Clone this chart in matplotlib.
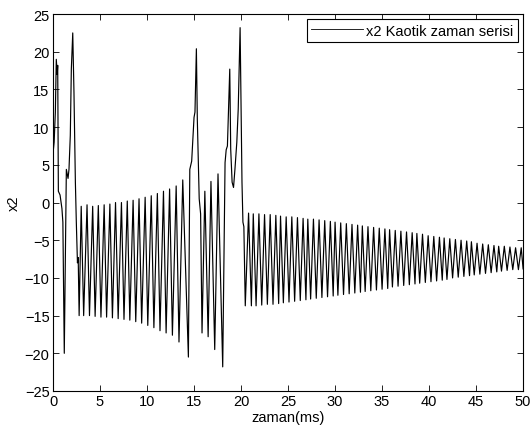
import numpy as np
import matplotlib
matplotlib.use("Agg")
import matplotlib.pyplot as plt

plt.rcParams['font.family'] = ['Liberation Sans', 'DejaVu Sans']

# ---- data (time in ms, x2 value) ----
# initial transient
t_head = [0.0, 0.12, 0.25, 0.35, 0.45, 0.5, 0.57, 0.75, 0.95, 1.05, 1.2, 1.42, 1.6, 1.7,
          1.84, 1.95, 2.1, 2.23, 2.38, 2.48, 2.6, 2.68, 2.78]
v_head = [6.5, 8.0, 12.0, 19.0, 17.0, 18.2, 1.5, 1.0, -0.8, -2.6, -20.0, 4.4, 3.2, 4.4,
          8.9, 17.7, 22.5, 14.6, 2.7, -2.6, -8.0, -7.3, -15.0]

# first oscillating regime (growing)
t_peak1 = [3.0, 3.62, 4.22, 4.82, 5.44, 6.05, 6.65, 7.28, 7.9, 8.52, 9.15, 9.8, 10.45,
           11.1, 11.75, 12.4, 13.1, 13.8]
v_peak1 = [-0.5, -0.3, -0.5, -0.4, -0.3, -0.2, 0.0, 0.0, 0.2, 0.3, 0.5, 0.7, 0.9,
           1.2, 1.5, 1.8, 2.2, 3.0]
t_trough1 = [3.26, 3.88, 4.48, 5.1, 5.7, 6.32, 6.93, 7.55, 8.17, 8.8, 9.43, 10.08, 10.73,
             11.38, 12.03, 12.7, 13.4]
v_trough1 = [-15.0, -15.0, -15.1, -15.2, -15.2, -15.3, -15.4, -15.5, -15.6, -15.8, -16.0,
             -16.3, -16.6, -17.0, -17.3, -17.6, -18.5]

# transition with large bursts
t_mid = [14.4, 14.55, 14.75, 15.0, 15.1, 15.25, 15.35, 15.55, 15.7, 15.85, 16.15, 16.5,
         16.8, 17.2, 17.55, 18.05, 18.3, 18.42, 18.55, 18.65, 18.8, 18.9, 19.05, 19.2,
         19.35, 19.55, 19.7, 19.9, 20.0, 20.1, 20.2, 20.3, 20.45]
v_mid = [-20.5, 4.4, 5.5, 11.3, 12.0, 20.4, 11.0, 0.5, -1.5, -17.3, 1.5, -17.8,
         2.8, -19.5, 3.8, -21.8, 5.3, 7.0, 7.5, 11.5, 17.7, 7.1, 2.7, 2.0,
         4.4, 8.0, 12.4, 23.2, 12.4, 2.7, -2.6, -3.2, -13.7]

# decaying regime
t_peak3 = [20.8, 21.3, 21.9, 22.5, 23.1, 23.7, 24.2, 24.8, 25.4, 26.0, 26.6, 27.1, 27.7,
           28.3, 28.9, 29.5, 30.0, 30.6, 31.2, 31.8, 32.4, 32.9, 33.5, 34.1, 34.7, 35.3,
           35.8, 36.4, 37.0, 37.6, 38.2, 38.7, 39.3, 39.9, 40.5, 41.1, 41.6, 42.2, 42.8,
           43.4, 44.0, 44.5, 45.1, 45.7, 46.3, 46.9, 47.4, 48.0, 48.6, 49.2, 49.8]
v_peak3 = [-1.4, -1.5, -1.5, -1.6, -1.6, -1.7, -1.8, -1.9, -1.9, -2.0, -2.1, -2.2, -2.2,
           -2.3, -2.4, -2.5, -2.6, -2.7, -2.8, -2.9, -3.0, -3.1, -3.2, -3.3, -3.4, -3.5,
           -3.6, -3.7, -3.8, -3.9, -4.0, -4.1, -4.2, -4.4, -4.5, -4.6, -4.7, -4.8, -4.9,
           -5.0, -5.1, -5.2, -5.4, -5.5, -5.6, -5.7, -5.8, -5.8, -5.9, -6.0, -6.0]
t_trough3 = [21.1, 21.6, 22.2, 22.8, 23.4, 24.0, 24.5, 25.1, 25.7, 26.3, 26.9, 27.4, 28.0,
             28.6, 29.2, 29.8, 30.3, 30.9, 31.5, 32.1, 32.7, 33.2, 33.8, 34.4, 35.0, 35.6,
             36.1, 36.7, 37.3, 37.9, 38.5, 39.0, 39.6, 40.2, 40.8, 41.4, 41.9, 42.5, 43.1,
             43.7, 44.3, 44.8, 45.4, 46.0, 46.6, 47.2, 47.7, 48.3, 48.9, 49.5, 50.0]
v_trough3 = [-13.7, -13.7, -13.6, -13.5, -13.5, -13.4, -13.3, -13.2, -13.1, -13.0, -12.9,
             -12.8, -12.7, -12.6, -12.5, -12.4, -12.3, -12.2, -12.1, -12.0, -11.9, -11.8,
             -11.7, -11.6, -11.5, -11.4, -11.2, -11.1, -11.0, -10.9, -10.8, -10.7, -10.6,
             -10.5, -10.4, -10.3, -10.2, -10.0, -9.9, -9.8, -9.7, -9.6, -9.5, -9.4, -9.3,
             -9.2, -9.1, -9.0, -8.9, -8.9, -8.8]

x_ticks = [0, 5, 10, 15, 20, 25, 30, 35, 40, 45, 50]
y_ticks = [-25, -20, -15, -10, -5, 0, 5, 10, 15, 20, 25]
legend_label = 'x2 Kaotik zaman serisi'

# ---- assemble the series ----
t_all = np.concatenate([t_head, t_peak1, t_trough1, t_mid, t_peak3, t_trough3])
v_all = np.concatenate([v_head, v_peak1, v_trough1, v_mid, v_peak3, v_trough3])
order = np.argsort(t_all, kind='stable')
t_all = t_all[order]
v_all = v_all[order]

FS = 10.5
fig = plt.figure(figsize=(5.30, 4.31), dpi=100)
ax = fig.add_axes([0.100, 0.0905, 0.887, 0.8745])
ax.plot(t_all, v_all, color='black', lw=0.85, label=legend_label)

ax.set_xlim(0, 50)
ax.set_ylim(-25, 25)
ax.set_xticks(x_ticks)
ax.set_yticks(y_ticks)
ax.tick_params(direction='in', top=True, right=True, length=4, width=0.6,
               labelsize=FS, pad=2.5, colors='black')
for s in ax.spines.values():
    s.set_linewidth(0.8)
    s.set_color('black')
ax.set_xlabel('zaman(ms)', fontsize=FS, labelpad=1)
ax.set_ylabel('x2', fontsize=FS, labelpad=3)

leg = ax.legend(loc='upper right', fontsize=FS, frameon=True, fancybox=False,
                edgecolor='black', framealpha=1, handlelength=3.6, handletextpad=0.2,
                borderpad=0.3, borderaxespad=0.35)
leg.get_frame().set_linewidth(0.8)
for line in leg.get_lines():
    line.set_linewidth(0.6)

fig.savefig('out.png', dpi=100)
